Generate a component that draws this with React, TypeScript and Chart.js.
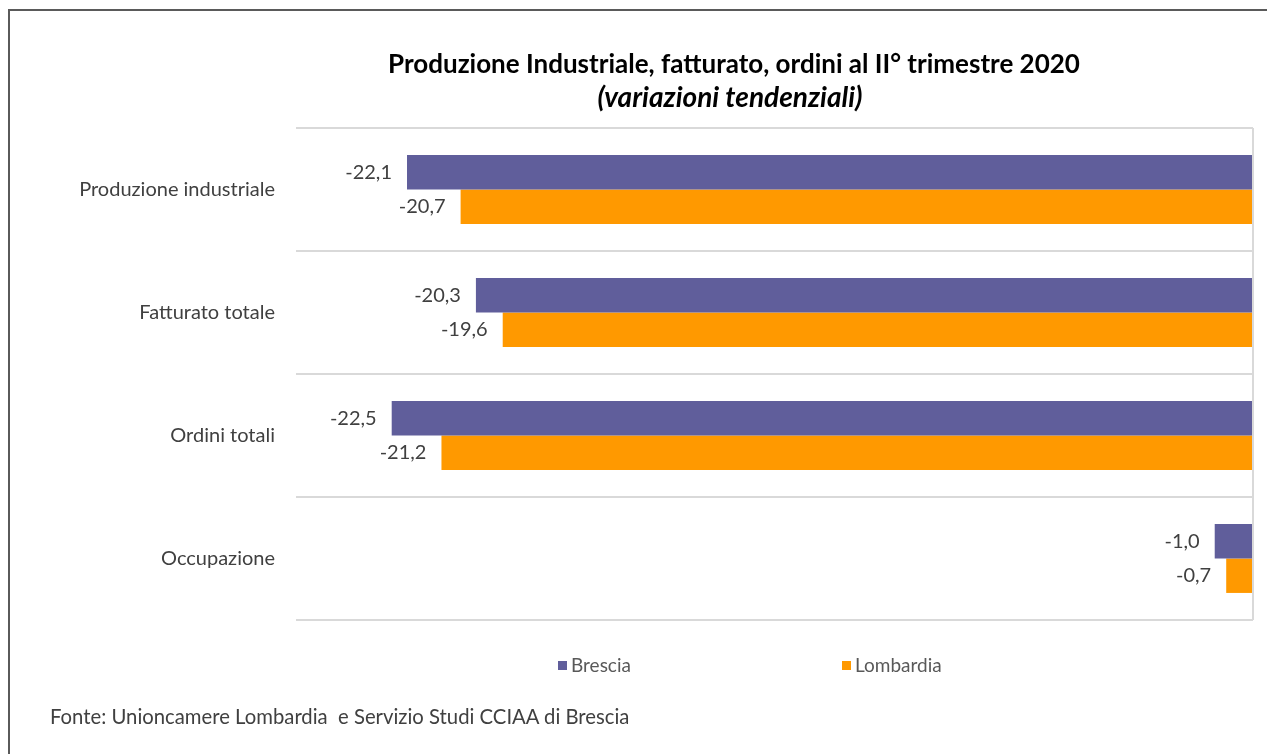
import React, { useEffect, useRef } from "react";
import { Chart, registerables } from "chart.js";

Chart.register(...registerables);

const categories = ["Produzione industriale", "Fatturato totale", "Ordini totali", "Occupazione"];
const brescia = [-22.1, -20.3, -22.5, -1.0];
const lombardia = [-20.7, -19.6, -21.2, -0.7];
const seriesNames = ["Brescia", "Lombardia"];
const seriesColors = ["#605E9B", "#FF9900"];
const titleText = "Produzione Industriale, fatturato, ordini al II° trimestre 2020";
const subtitleText = "(variazioni tendenziali)";
const sourceText = "Fonte: Unioncamere Lombardia  e Servizio Studi CCIAA di Brescia";

const FONT = "Lato, 'Open Sans', sans-serif";

const fmt = (v: number) => v.toFixed(1).replace(".", ",");

const valueLabels = {
  id: "valueLabels",
  afterDatasetsDraw(chart: any) {
    const ctx = chart.ctx;
    ctx.save();
    ctx.font = `20px ${FONT}`;
    ctx.fillStyle = "#404040";
    ctx.textAlign = "right";
    ctx.textBaseline = "middle";
    chart.data.datasets.forEach((ds: any, di: number) => {
      const meta = chart.getDatasetMeta(di);
      meta.data.forEach((bar: any, i: number) => {
        ctx.fillText(fmt(ds.data[i]), bar.x - 15, bar.y);
      });
    });
    ctx.restore();
  },
};

const titles = {
  id: "titles",
  afterDraw(chart: any) {
    const ctx = chart.ctx;
    const cx = 734;
    ctx.save();
    ctx.fillStyle = "#000000";
    ctx.textAlign = "center";
    ctx.textBaseline = "middle";
    ctx.font = `bold 26px ${FONT}`;
    ctx.fillText(titleText, cx, 65);
    ctx.font = `italic bold 28px ${FONT}`;
    ctx.fillText(subtitleText, cx - 4, 98);
    ctx.restore();
  },
};

const customLegend = {
  id: "customLegend",
  afterDraw(chart: any) {
    const ctx = chart.ctx;
    const area = chart.chartArea;
    const y = area.bottom + 45;
    const starts = [area.left + 262, area.left + 546];
    ctx.save();
    ctx.font = `19px ${FONT}`;
    ctx.textBaseline = "middle";
    ctx.textAlign = "left";
    chart.data.datasets.forEach((ds: any, di: number) => {
      const x = starts[di];
      ctx.fillStyle = ds.backgroundColor;
      ctx.fillRect(x, y - 4, 9, 9);
      ctx.fillStyle = "#595959";
      ctx.fillText(ds.label, x + 13, y + 1);
    });
    ctx.restore();
  },
};

export default function App() {
  const ref = useRef<HTMLCanvasElement | null>(null);
  useEffect(() => {
    if (!ref.current) return;
    const chart = new Chart(ref.current, {
      type: "bar",
      data: {
        labels: categories,
        datasets: [
          { label: seriesNames[0], data: brescia, backgroundColor: seriesColors[0], categoryPercentage: 0.56, barPercentage: 1 },
          { label: seriesNames[1], data: lombardia, backgroundColor: seriesColors[1], categoryPercentage: 0.56, barPercentage: 1 },
        ],
      },
      options: {
        indexAxis: "y",
        responsive: false,
        animation: false,
        devicePixelRatio: 1,
        layout: { padding: { left: 0, right: 14, top: 128, bottom: 134 } },
        plugins: {
          legend: { display: false },
          tooltip: { enabled: false },
          title: { display: false },
        },
        scales: {
          x: {
            min: -25,
            max: 0,
            ticks: { display: false, stepSize: 5 },
            grid: {
              drawTicks: false,
              color: (c: any) => (c.tick && c.tick.value === 0 ? "#D9D9D9" : "rgba(0,0,0,0)"),
              lineWidth: 2,
            },
            border: { display: false },
          },
          y: {
            afterFit: (s: any) => { s.width = 296; },
            ticks: { color: "#404040", font: { family: FONT, size: 20 }, padding: 21 },
            grid: { drawTicks: false, color: "#D9D9D9", lineWidth: 2, offset: true },
            border: { display: false },
          },
        },
      },
      plugins: [valueLabels, customLegend, titles],
    });
    return () => chart.destroy();
  }, []);

  return (
    <div style={{ position: "fixed", left: 0, top: 0, width: 1267, height: 754, background: "#ffffff", overflow: "hidden" }}>
      <div style={{ position: "absolute", left: 8, top: 9, width: 1300, height: 800, borderTop: "2px solid #5a5a5a", borderLeft: "2px solid #5a5a5a", boxSizing: "border-box" }} />
      <canvas ref={ref} width={1267} height={754} style={{ position: "absolute", left: 0, top: 0, width: 1267, height: 754 }} />
      <div style={{ position: "absolute", left: 50, top: 704, fontFamily: FONT, fontSize: 20.3, color: "#404040", whiteSpace: "pre" }}>{sourceText}</div>
    </div>
  );
}
